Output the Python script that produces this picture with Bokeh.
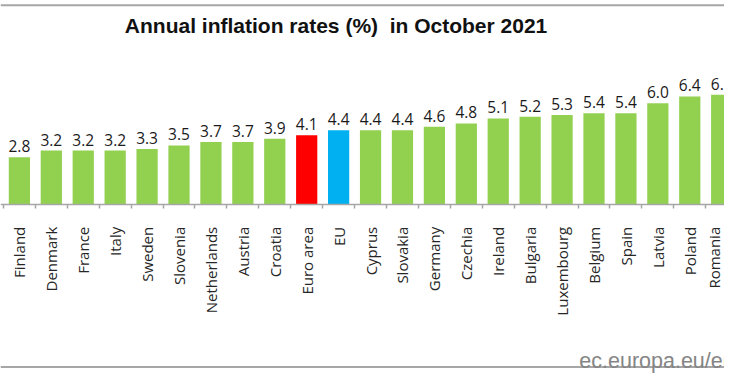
import math
from bokeh.plotting import figure
from bokeh.models import Range1d, FixedTicker, ColumnDataSource, Span, Label, CustomJSTickFormatter
from bokeh.core.properties import value
from bokeh.embed import file_html
from bokeh.resources import INLINE

countries = ["Finland", "Denmark", "France", "Italy", "Sweden", "Slovenia", "Netherlands",
             "Austria", "Croatia", "Euro area", "EU", "Cyprus", "Slovakia", "Germany",
             "Czechia", "Ireland", "Bulgaria", "Luxembourg", "Belgium", "Spain", "Latvia",
             "Poland", "Romania"]
rates = [2.8, 3.2, 3.2, 3.2, 3.3, 3.5, 3.7, 3.7, 3.9, 4.1, 4.4, 4.4, 4.4, 4.6, 4.8,
         5.1, 5.2, 5.3, 5.4, 5.4, 6.0, 6.4, 6.5]
highlight = {"Euro area": "#ff0000", "EU": "#00b0f0"}
base_color = "#92d050"

title_text = "Annual inflation rates (%)\u00a0 in October 2021"
source_text = "ec.europa.eu/eurostat"

xs = list(range(len(countries)))
colors = [highlight.get(c, base_color) for c in countries]
value_labels = [f"{v:.1f}" for v in rates]

src = ColumnDataSource(dict(x=xs, y=rates, color=colors, lbl=value_labels))

p = figure(width=724, height=373,
           x_range=Range1d(-0.592, 22.088), y_range=Range1d(-9.967, 12.064),
           output_backend="svg", toolbar_location=None, y_axis_location=None,
           min_border=0)
p.min_border_left = p.min_border_right = p.min_border_top = p.min_border_bottom = 0
p.outline_line_color = None
p.grid.visible = False
p.background_fill_color = "white"
p.border_fill_color = "white"

p.vbar(x="x", top="y", bottom=0, width=0.665, fill_color="color", line_color=None, source=src)

p.text(x="x", y="y", text="lbl", source=src, y_offset=-11,
       text_align="center", text_baseline="alphabetic",
       text_font=value("Open Sans"), text_font_size=value("15.5px"), text_color="#1a1a1a")

ax = p.xaxis[0]
ax.fixed_location = 0
ax.ticker = FixedTicker(ticks=xs, minor_ticks=[i - 0.5 for i in range(len(countries) + 1)])
ax.formatter = CustomJSTickFormatter(args=dict(names=countries),
                                     code="const i = Math.round(tick); return names[i] || '';")
ax.major_label_orientation = math.pi / 2
ax.major_label_standoff = 18
ax.major_label_text_font = "Open Sans"
ax.major_label_text_font_size = "15px"
ax.major_label_text_color = "#262626"
ax.axis_line_color = "#a6a6a6"
ax.axis_line_width = 1.5
ax.major_tick_out = 0
ax.major_tick_in = 0
ax.minor_tick_out = 4
ax.minor_tick_in = 0
ax.minor_tick_line_color = "#a6a6a6"
ax.minor_tick_line_width = 1.5

p.add_layout(Span(location=11.78, dimension="width", line_color="#a6a6a6", line_width=2))
p.add_layout(Span(location=-9.59, dimension="width", line_color="#a6a6a6", line_width=2))

p.add_layout(Label(x=9.92, y=10.59, text=title_text, text_align="center", text_baseline="middle",
                   text_font="Liberation Sans", text_font_style="bold", text_font_size="21px",
                   text_color="#111111"))
p.add_layout(Label(x=17.54, y=-9.236, text=source_text, text_align="left", text_baseline="alphabetic",
                   text_font="Liberation Sans", text_font_size="21.5px", text_color="#858585"))

open("out.html", "w").write(file_html(p, INLINE))
